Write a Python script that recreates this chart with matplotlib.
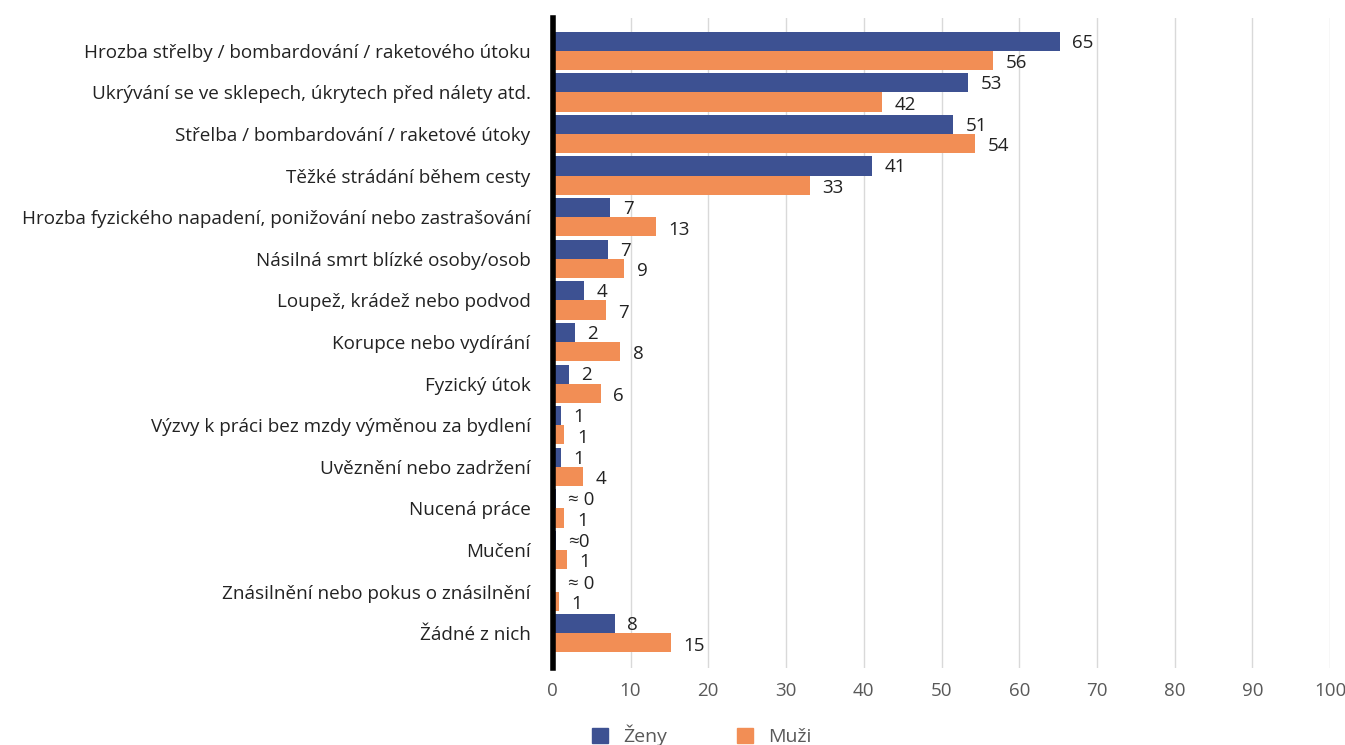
import numpy as np
import matplotlib.pyplot as plt
from matplotlib.patches import Patch

plt.rcParams['font.family'] = ['Open Sans', 'DejaVu Sans']

categories = [
    "Hrozba střelby / bombardování / raketového útoku",
    "Ukrývání se ve sklepech, úkrytech před nálety atd.",
    "Střelba / bombardování / raketové útoky",
    "Těžké strádání během cesty",
    "Hrozba fyzického napadení, ponižování nebo zastrašování",
    "Násilná smrt blízké osoby/osob",
    "Loupež, krádež nebo podvod",
    "Korupce nebo vydírání",
    "Fyzický útok",
    "Výzvy k práci bez mzdy výměnou za bydlení",
    "Uvěznění nebo zadržení",
    "Nucená práce",
    "Mučení",
    "Znásilnění nebo pokus o znásilnění",
    "Žádné z nich",
]
zeny = [65.2, 53.4, 51.5, 41.1, 7.4, 7.1, 4.0, 2.8, 2.1, 1.0, 1.0, 0.4, 0.4, 0.3, 8.0]
muzi = [56.6, 42.4, 54.3, 33.1, 13.3, 9.2, 6.8, 8.7, 6.2, 1.5, 3.9, 1.5, 1.8, 0.8, 15.2]
zeny_labels = ["65", "53", "51", "41", "7", "7", "4", "2", "2", "1", "1", "≈ 0", "≈0", "≈ 0", "8"]
muzi_labels = ["56", "42", "54", "33", "13", "9", "7", "8", "6", "1", "4", "1", "1", "1", "15"]

c_zeny = "#3d5192"
c_muzi = "#f28e55"

fig = plt.figure(figsize=(13.45, 7.45), dpi=100)
ax = fig.add_axes([0.411, 0.103, 0.578, 0.873])

y = np.arange(len(categories))
h = 0.46
ax.barh(y - h / 2, zeny, height=h, color=c_zeny)
ax.barh(y + h / 2, muzi, height=h, color=c_muzi)

for i in range(len(categories)):
    ax.annotate(zeny_labels[i], (zeny[i], y[i] - h / 2), xytext=(9, -1), textcoords="offset points",
                va="center", ha="left", fontsize=13.5, color="#222222")
    ax.annotate(muzi_labels[i], (muzi[i], y[i] + h / 2), xytext=(9, -2), textcoords="offset points",
                va="center", ha="left", fontsize=13.5, color="#222222")

ax.set_xlim(0, 100)
ax.set_ylim(14.84, -0.79)
ax.set_xticks(np.arange(0, 101, 10))
ax.set_yticks(y)
ax.set_yticklabels(categories, fontsize=13.6, color="#222222")
ax.tick_params(axis="y", length=0, pad=16)
ax.tick_params(axis="x", length=0, pad=10, labelsize=13.5, labelcolor="#595959")
ax.grid(axis="x", color="#d9d9d9", linewidth=1)
ax.set_axisbelow(True)
for s in ["top", "right", "bottom"]:
    ax.spines[s].set_visible(False)
ax.spines["left"].set_linewidth(4)
ax.spines["left"].set_color("black")

handles = [Patch(color=c_zeny, label="Ženy"), Patch(color=c_muzi, label="Muži")]
fig.legend(handles=handles, loc="center", bbox_to_anchor=(0.522, 0.013), ncol=2, frameon=False,
           fontsize=14, handlelength=0.8, handleheight=0.8, columnspacing=3.6, labelcolor="#595959")

fig.savefig("out.png", dpi=100)
